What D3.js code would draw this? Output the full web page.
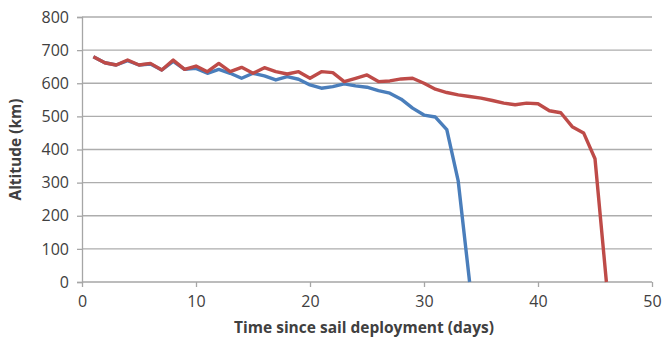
<!DOCTYPE html>
<html>
<head>
<meta charset="utf-8">
<script src="https://cdn.jsdelivr.net/npm/d3@7"></script>
<style>
	body { margin: 0; background: #fff; }
	text { font-family: "Open Sans", "Liberation Sans", sans-serif; fill: #404040; }
	.tick text { font-size: 16px; }
	.title { font-size: 15.5px; font-weight: bold; }
</style>
</head>
<body>
<div id="canvas"></div>
<script>
// days since deployment
var redDays = d3.range(1, 47);
var redAlt = [680, 662, 655, 670, 655, 660, 640, 670, 642, 652,
	635, 660, 635, 648, 630, 647, 635, 628, 635, 615,
	635, 632, 605, 615, 625, 605, 607, 613, 615, 600,
	582, 572, 565, 560, 555, 548, 540, 535, 540, 538,
	517, 511, 469, 450, 372, 0];

var blueDays = d3.range(1, 35);
var blueAlt = [680, 662, 655, 668, 655, 658, 640, 666, 642, 645,
	630, 642, 630, 615, 630, 622, 610, 620, 612, 595,
	585, 590, 598, 592, 588, 578, 570, 552, 525, 504,
	498, 460, 305, 0];

var xTicks = [0, 10, 20, 30, 40, 50];
var yTicks = [0, 100, 200, 300, 400, 500, 600, 700, 800];

var w = 663, h = 346;
var margin = {left: 82, right: 11, top: 17, bottom: 64};

var svg = d3.select("#canvas")
	.append("svg")
	.attr("width", w)
	.attr("height", h);

var x = d3.scaleLinear()
	.domain([0, 50])
	.range([margin.left, w - margin.right]);

var y = d3.scaleLinear()
	.domain([0, 800])
	.range([h - margin.bottom, margin.top]);

// gridlines
svg.append("g")
	.selectAll("line")
	.data(yTicks.slice(1))
	.enter()
	.append("line")
	.attr("x1", x(0))
	.attr("x2", x(50))
	.attr("y1", function(d){ return y(d); })
	.attr("y2", function(d){ return y(d); })
	.attr("stroke", "#adadad")
	.attr("stroke-width", 1.3);

var yAxis = svg.append("g")
	.attr("transform", "translate(" + x(0) + ",0)")
	.call(d3.axisLeft(y).tickValues(yTicks).tickSize(5).tickPadding(8));

var xAxis = svg.append("g")
	.attr("transform", "translate(0," + y(0) + ")")
	.call(d3.axisBottom(x).tickValues(xTicks).tickSize(5).tickPadding(9));

[yAxis, xAxis].forEach(function(a){
	a.select(".domain").attr("stroke", "#a6a6a6").attr("stroke-width", 1.3);
	a.selectAll(".tick line").attr("stroke", "#a6a6a6").attr("stroke-width", 1.3);
	a.selectAll(".tick text").attr("fill", "#404040");
});
xAxis.select(".domain").attr("d", "M" + x(0) + ",0H" + x(50));

var line = d3.line()
	.x(function(d){ return x(d[0]); })
	.y(function(d){ return y(d[1]); });

svg.append("path")
	.datum(d3.zip(blueDays, blueAlt))
	.attr("d", line)
	.attr("fill", "none")
	.attr("stroke", "#4a7ebb")
	.attr("stroke-width", 3.4)
	.attr("stroke-linejoin", "round");

svg.append("path")
	.datum(d3.zip(redDays, redAlt))
	.attr("d", line)
	.attr("fill", "none")
	.attr("stroke", "#be4b48")
	.attr("stroke-width", 3.4)
	.attr("stroke-linejoin", "round");

svg.append("text")
	.attr("class", "title")
	.attr("x", 364)
	.attr("y", 333)
	.attr("text-anchor", "middle")
	.text("Time since sail deployment (days)");

svg.append("text")
	.attr("class", "title")
	.attr("transform", "translate(21," + y(400) + ") rotate(-90)")
	.attr("text-anchor", "middle")
	.text("Altitude (km)");
</script>
</body>
</html>
